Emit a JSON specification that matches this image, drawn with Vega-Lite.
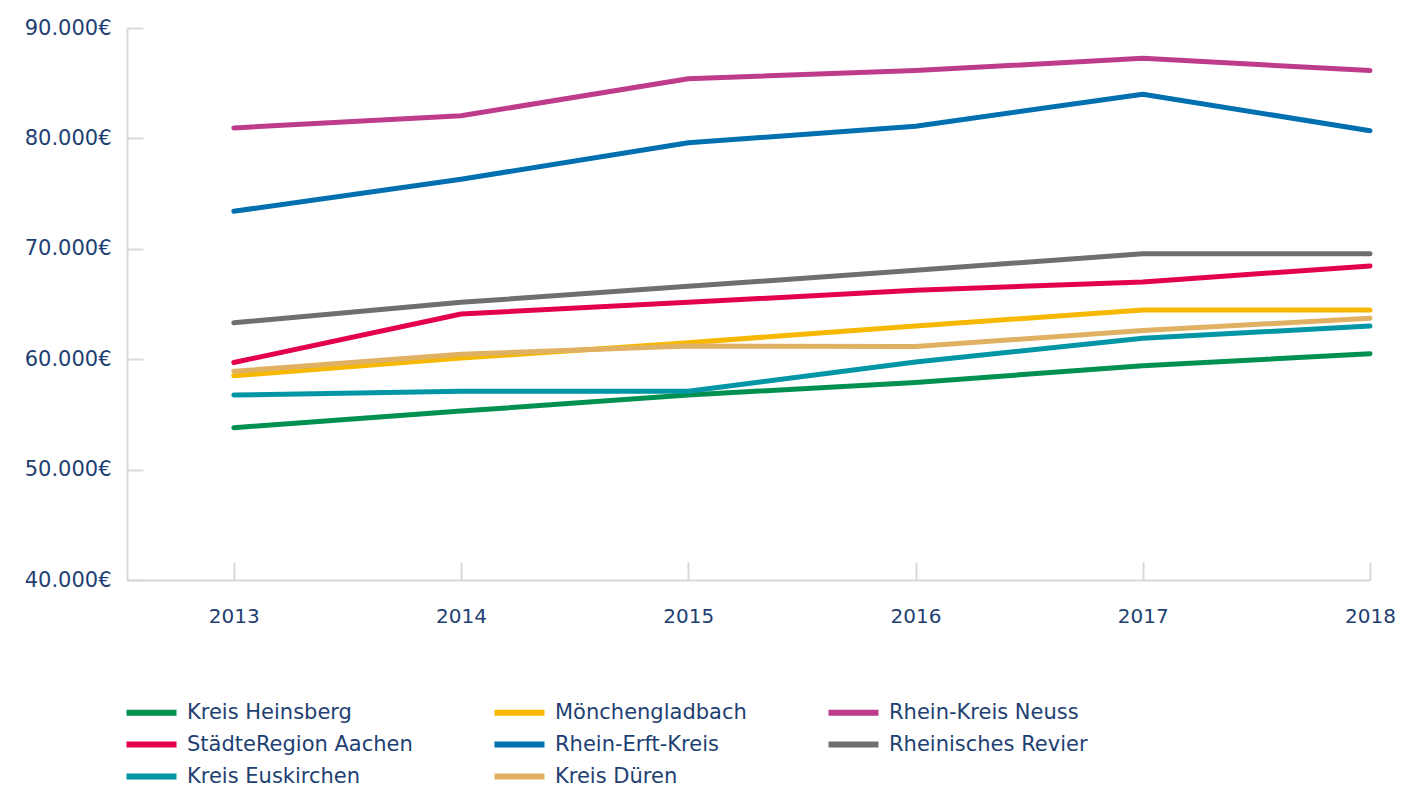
{
  "$schema": "https://vega.github.io/schema/vega-lite/v6.json",
  "autosize": {"type": "none"},
  "width": 1243,
  "height": 552,
  "padding": {"left": 127, "top": 28, "right": 32, "bottom": 207},
  "background": "white",
  "config": {
    "view": {"stroke": null},
    "font": "DejaVu Sans",
    "axis": {"labelFont": "DejaVu Sans", "labelColor": "#1e3f72", "labelFontSize": 20, "domainColor": "#d9d9d9", "domainWidth": 2, "tickColor": "#d9d9d9", "tickWidth": 2, "grid": false, "title": null}
  },
  "data": {"values": [
    {"region": "Kreis Heinsberg", "year": 2013, "value": 53800},
    {"region": "Kreis Heinsberg", "year": 2014, "value": 55300},
    {"region": "Kreis Heinsberg", "year": 2015, "value": 56750},
    {"region": "Kreis Heinsberg", "year": 2016, "value": 57900},
    {"region": "Kreis Heinsberg", "year": 2017, "value": 59400},
    {"region": "Kreis Heinsberg", "year": 2018, "value": 60500},
    {"region": "Mönchengladbach", "year": 2013, "value": 58500},
    {"region": "Mönchengladbach", "year": 2014, "value": 60100},
    {"region": "Mönchengladbach", "year": 2015, "value": 61500},
    {"region": "Mönchengladbach", "year": 2016, "value": 63000},
    {"region": "Mönchengladbach", "year": 2017, "value": 64450},
    {"region": "Mönchengladbach", "year": 2018, "value": 64450},
    {"region": "Rhein-Kreis Neuss", "year": 2013, "value": 80950},
    {"region": "Rhein-Kreis Neuss", "year": 2014, "value": 82050},
    {"region": "Rhein-Kreis Neuss", "year": 2015, "value": 85400},
    {"region": "Rhein-Kreis Neuss", "year": 2016, "value": 86150},
    {"region": "Rhein-Kreis Neuss", "year": 2017, "value": 87250},
    {"region": "Rhein-Kreis Neuss", "year": 2018, "value": 86150},
    {"region": "StädteRegion Aachen", "year": 2013, "value": 59700},
    {"region": "StädteRegion Aachen", "year": 2014, "value": 64100},
    {"region": "StädteRegion Aachen", "year": 2015, "value": 65150},
    {"region": "StädteRegion Aachen", "year": 2016, "value": 66250},
    {"region": "StädteRegion Aachen", "year": 2017, "value": 67000},
    {"region": "StädteRegion Aachen", "year": 2018, "value": 68450},
    {"region": "Rhein-Erft-Kreis", "year": 2013, "value": 73400},
    {"region": "Rhein-Erft-Kreis", "year": 2014, "value": 76300},
    {"region": "Rhein-Erft-Kreis", "year": 2015, "value": 79600},
    {"region": "Rhein-Erft-Kreis", "year": 2016, "value": 81100},
    {"region": "Rhein-Erft-Kreis", "year": 2017, "value": 84000},
    {"region": "Rhein-Erft-Kreis", "year": 2018, "value": 80700},
    {"region": "Rheinisches Revier", "year": 2013, "value": 63300},
    {"region": "Rheinisches Revier", "year": 2014, "value": 65150},
    {"region": "Rheinisches Revier", "year": 2015, "value": 66600},
    {"region": "Rheinisches Revier", "year": 2016, "value": 68050},
    {"region": "Rheinisches Revier", "year": 2017, "value": 69550},
    {"region": "Rheinisches Revier", "year": 2018, "value": 69550},
    {"region": "Kreis Euskirchen", "year": 2013, "value": 56750},
    {"region": "Kreis Euskirchen", "year": 2014, "value": 57100},
    {"region": "Kreis Euskirchen", "year": 2015, "value": 57100},
    {"region": "Kreis Euskirchen", "year": 2016, "value": 59750},
    {"region": "Kreis Euskirchen", "year": 2017, "value": 61900},
    {"region": "Kreis Euskirchen", "year": 2018, "value": 63000},
    {"region": "Kreis Düren", "year": 2013, "value": 58900},
    {"region": "Kreis Düren", "year": 2014, "value": 60450},
    {"region": "Kreis Düren", "year": 2015, "value": 61200},
    {"region": "Kreis Düren", "year": 2016, "value": 61150},
    {"region": "Kreis Düren", "year": 2017, "value": 62600},
    {"region": "Kreis Düren", "year": 2018, "value": 63700}
  ]},
  "mark": {"type": "line", "strokeWidth": 5, "strokeCap": "round", "strokeJoin": "round"},
  "encoding": {
    "x": {
      "field": "year", "type": "quantitative",
      "scale": {"domain": [2012.53, 2018], "nice": false, "zero": false},
      "axis": {"values": [2013, 2014, 2015, 2016, 2017, 2018], "format": "d", "tickSize": -18, "labelPadding": 44, "labelFlush": false, "labelOverlap": false}
    },
    "y": {
      "field": "value", "type": "quantitative",
      "scale": {"domain": [40000, 90000], "nice": false, "zero": false},
      "axis": {"values": [40000, 50000, 60000, 70000, 80000, 90000], "labelFontSize": 21, "tickSize": -16, "labelPadding": 32, "labelFlush": false, "labelOverlap": false, "labelExpr": "replace(format(datum.value, ',d'), ',', '.') + '€'"}
    },
    "color": {
      "field": "region", "type": "nominal",
      "scale": {
        "domain": ["Kreis Heinsberg", "Mönchengladbach", "Rhein-Kreis Neuss", "StädteRegion Aachen", "Rhein-Erft-Kreis", "Rheinisches Revier", "Kreis Euskirchen", "Kreis Düren"],
        "range": ["#00904f", "#f6b800", "#bf3b8c", "#e2004f", "#0070b0", "#6f6f6f", "#0096a6", "#e1b163"]
      },
      "legend": {
        "title": null, "orient": "none", "legendX": 9, "legendY": 669, "direction": "horizontal", "columns": 3,
        "symbolType": "M-2,0H2", "symbolSize": 625, "symbolStrokeWidth": 6, "symbolFillColor": "transparent", "labelFontSize": 21, "labelColor": "#1e3f72", "labelFont": "DejaVu Sans",
        "labelOffset": 20, "columnPadding": 69, "rowPadding": 4, "labelLimit": 400
      }
    }
  }
}
